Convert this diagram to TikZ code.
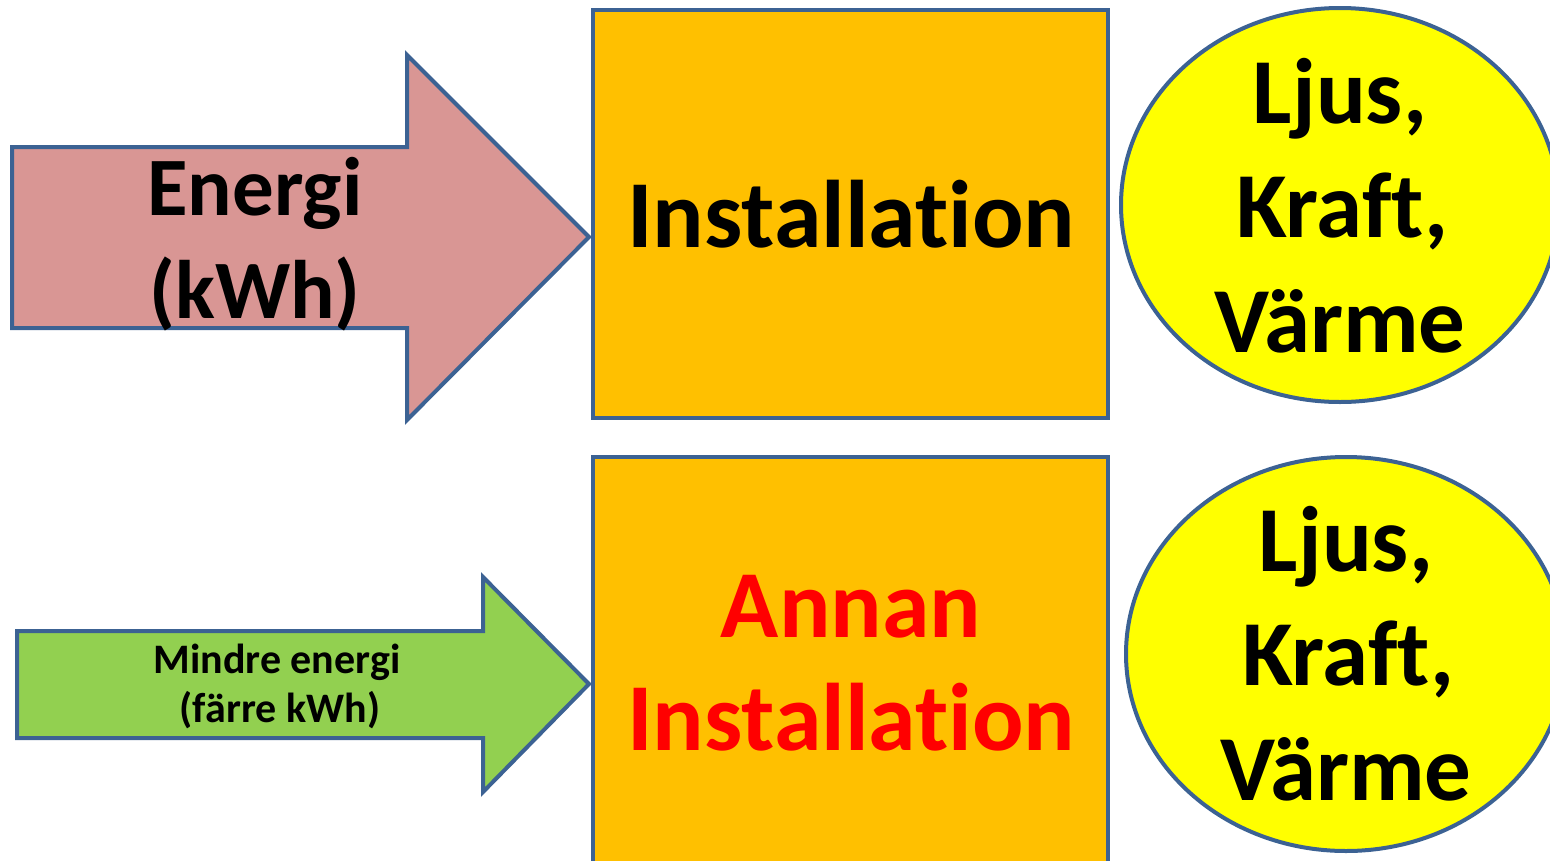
\documentclass[tikz,border=0pt]{standalone}
\usepackage{fontspec}
\setmainfont{Carlito}[Ligatures={NoCommon,NoRequired,NoContextual}]
\usetikzlibrary{shapes.geometric}
\definecolor{edge}{HTML}{3C6293}
\definecolor{pinkfill}{HTML}{D99694}
\definecolor{greenfill}{HTML}{92D050}
\definecolor{boxfill}{HTML}{FFC000}
\definecolor{ellfill}{HTML}{FFFF00}
\tikzset{
  outl/.style={draw=edge, line width=4pt, line join=miter},
  boxst/.style={outl, fill=boxfill},
  ellst/.style={outl, fill=ellfill},
  txt/.style={anchor=base, inner sep=0pt, font=\bfseries},
  big/.style={txt, font=\fontsize{96}{115}\selectfont\bfseries},
  mid/.style={txt, font=\fontsize{83}{100}\selectfont\bfseries},
  ell/.style={txt, font=\fontsize{93}{115}\selectfont\bfseries},
  small/.style={txt, font=\fontsize{42}{50}\selectfont\bfseries},
}
\begin{document}
\begin{tikzpicture}[x=1pt,y=-1pt]
\useasboundingbox (0,0) rectangle (1550,860);
\clip (0,0) rectangle (1550,860);
% top row
\draw[outl, fill=pinkfill] (12,147) -- (407,147) -- (407,55) -- (589,237) -- (407,420) -- (407,328) -- (12,328) -- cycle;
\node[mid] (e1) at (255,215) {Energi};
\node[mid] (e2) at (255,318) {(kWh)};
\draw[boxst] (593,10) rectangle (1108,418);
\node[big] (i1) at (851,247) {Installation};
\draw[ellst] (1340,205) ellipse [x radius=219, y radius=197];
\node[ell] (l1) at (1340,123) {Ljus,};
\node[ell] (l2) at (1342,237) {Kraft,};
\node[ell] (l3) at (1340,352) {Värme};
% bottom row
\draw[outl, fill=greenfill] (17,631) -- (483,631) -- (483,577) -- (589,684) -- (483,792) -- (483,738) -- (17,738) -- cycle;
\node[small] (m1) at (277,673) {Mindre energi};
\node[small] (m2) at (280,722) {(färre kWh)};
\draw[boxst] (593,457) rectangle (1108,900);
\node[big, text=red] (a1) at (851,637) {Annan};
\node[big, text=red] (a2) at (851,750) {Installation};
\draw[ellst] (1346,654) ellipse [x radius=220, y radius=197];
\node[ell] (b1) at (1346,571) {Ljus,};
\node[ell] (b2) at (1348,685) {Kraft,};
\node[ell] (b3) at (1346,800) {Värme};
\end{tikzpicture}
\end{document}
